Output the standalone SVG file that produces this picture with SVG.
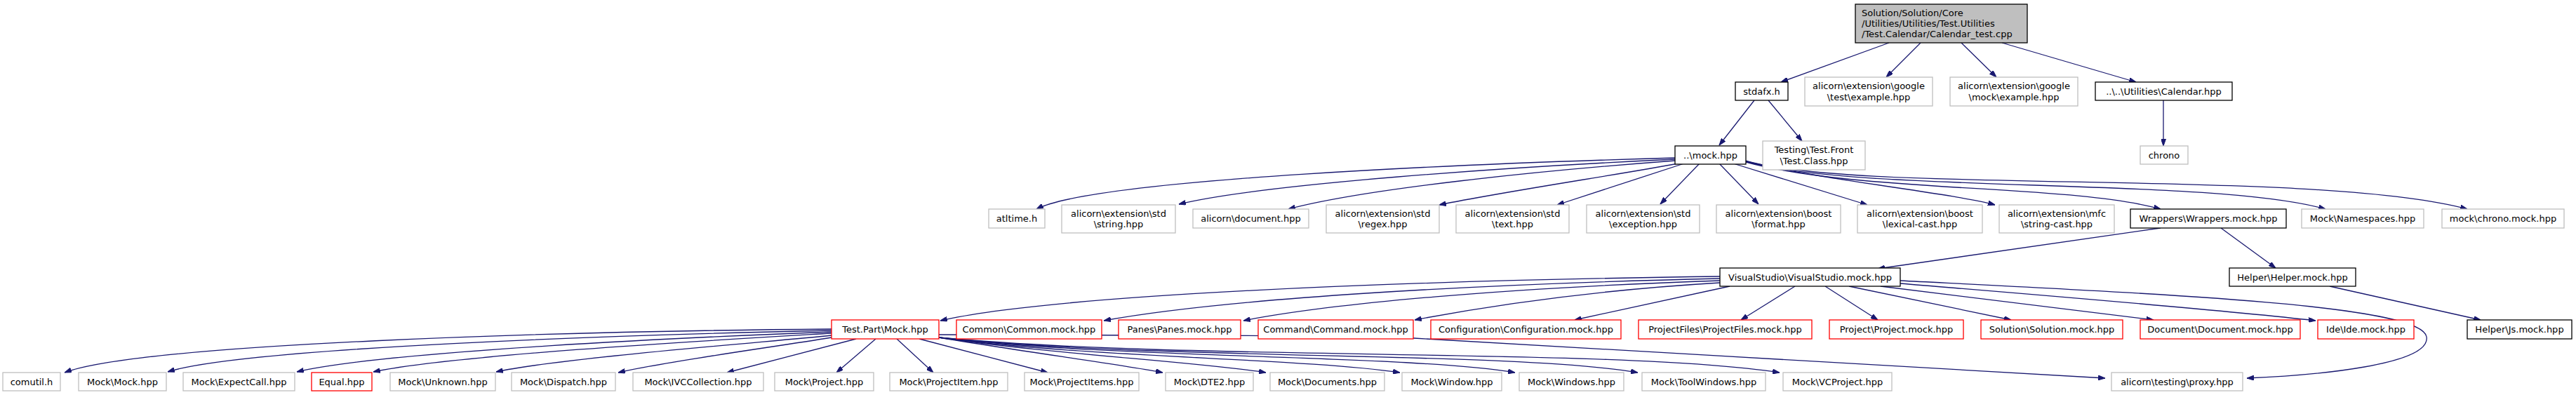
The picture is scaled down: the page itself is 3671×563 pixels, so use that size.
<svg xmlns="http://www.w3.org/2000/svg" width="3671" height="563" viewBox="0 0 3671 563">
<style>
text{font-family:"DejaVu Sans","Liberation Sans",sans-serif;font-size:13px;fill:#000;text-anchor:middle}
.b{fill:#fff;stroke:#000;stroke-width:1.3}
.g{fill:#fff;stroke:#bfbfbf;stroke-width:1.3}
.r{fill:#fff;stroke:#ff0000;stroke-width:1.3}
.top{fill:#bfbfbf;stroke:#000;stroke-width:1.3}
#edges path{fill:none;stroke:#191970;stroke-width:1.3;marker-end:url(#ah)}
</style>
<defs>
<marker id="ah" viewBox="0 0 10 7" refX="10" refY="3.5" markerWidth="10" markerHeight="7" markerUnits="userSpaceOnUse" orient="auto">
<path d="M0,0 L10,3.5 L0,7 z" fill="#191970" stroke="#191970"/>
</marker>
</defs>
<rect width="3671" height="563" fill="#fff"/>
<g id="edges">
<path d="M2692,61 L2538,117"/>
<path d="M2737,61 L2688,110"/>
<path d="M2795,61 L2845,110"/>
<path d="M2853,61 L3044,117"/>
<path d="M3083,143 L3083,208"/>
<path d="M2500,143 L2450,207"/>
<path d="M2520,143 L2568,201"/>
<path d="M2387,225 C2100,233 1560,255 1477,298"/>
<path d="M2387,227 C2150,238 1800,262 1680,291"/>
<path d="M2387,229 C2200,243 1950,268 1836,298"/>
<path d="M2392,233 C2300,250 2150,272 2051,292"/>
<path d="M2400,233 L2219,292"/>
<path d="M2422,233 L2366,291"/>
<path d="M2450,233 L2506,291"/>
<path d="M2470,233 L2661,292"/>
<path d="M2488,230 C2600,257 2780,275 2843,292"/>
<path d="M2488,231 C2650,275 2950,262 3079,298"/>
<path d="M2488,230 C2650,276 3150,252 3314,298"/>
<path d="M2488,229 C2650,277 3300,240 3516,298"/>
<path d="M3079,325 L2676,383"/>
<path d="M3165,325 L3243,382"/>
<path d="M3320,408 L3535,456"/>
<path d="M2451,394 C2000,400 1500,420 1340,457"/>
<path d="M2451,397 C2100,405 1750,425 1573,457"/>
<path d="M2451,400 C2150,410 1900,432 1772,457"/>
<path d="M2451,403 C2250,415 2100,440 2016,456"/>
<path d="M2465,408 L2244,456"/>
<path d="M2558,408 L2481,456"/>
<path d="M2601,408 L2676,456"/>
<path d="M2635,408 L2866,456"/>
<path d="M2680,408 L3069,456"/>
<path d="M2708,404 C2900,420 3150,440 3300,457"/>
<path d="M2708,400 C3100,420 3450,435 3458,480 C3465,520 3300,535 3202,539"/>
<path d="M1185,469 C800,472 200,490 92,531"/>
<path d="M1185,471 C900,477 350,495 239,530"/>
<path d="M1185,473 C1000,480 550,500 423,530"/>
<path d="M1185,475 C1050,483 650,505 532,530"/>
<path d="M1185,478 C1100,487 800,510 707,530"/>
<path d="M1185,481 C1100,495 950,515 881,531"/>
<path d="M1220,483 L1036,531"/>
<path d="M1248,483 L1192,531"/>
<path d="M1278,483 L1330,531"/>
<path d="M1310,483 L1493,531"/>
<path d="M1338,481 C1450,500 1600,520 1657,531"/>
<path d="M1338,481 C1500,505 1700,515 1804,531"/>
<path d="M1338,481 C1550,510 1850,510 1995,531"/>
<path d="M1338,481 C1600,512 2000,505 2159,531"/>
<path d="M1338,481 C1650,514 2150,500 2334,531"/>
<path d="M1338,481 C1700,515 2300,495 2536,531"/>
<path d="M1338,477 C1700,478 1950,478 2015,482 L3000,539"/>
</g>
<g id="n_top"><rect class="top" x="2644" y="6" width="245" height="55"/><text x="2653" y="22.6" style="text-anchor:start">Solution/Solution/Core</text><text x="2653" y="38" style="text-anchor:start">/Utilities/Utilities/Test.Utilities</text><text x="2653" y="53.4" style="text-anchor:start">/Test.Calendar/Calendar_test.cpp</text></g>
<g id="n_stdafx"><rect class="b" x="2473" y="117" width="75" height="26"/><text x="2510.5" y="134.5">stdafx.h</text></g>
<g id="n_gtest"><rect class="g" x="2572" y="110" width="182" height="41"/><text x="2663" y="127.3">alicorn\extension\google</text><text x="2663" y="142.7">\test\example.hpp</text></g>
<g id="n_gmock"><rect class="g" x="2779" y="110" width="182" height="41"/><text x="2870" y="127.3">alicorn\extension\google</text><text x="2870" y="142.7">\mock\example.hpp</text></g>
<g id="n_calendar"><rect class="b" x="2986" y="117" width="195" height="26"/><text x="3083.5" y="134.5">..\..\Utilities\Calendar.hpp</text></g>
<g id="n_mock"><rect class="b" x="2387" y="208" width="101" height="26"/><text x="2437.5" y="225.5">..\mock.hpp</text></g>
<g id="n_testclass"><rect class="g" x="2512" y="201" width="146" height="41"/><text x="2585" y="218.3">Testing\Test.Front</text><text x="2585" y="233.7">\Test.Class.hpp</text></g>
<g id="n_chrono"><rect class="g" x="3050" y="208" width="68" height="26"/><text x="3084" y="225.5">chrono</text></g>
<g id="n_atltime"><rect class="g" x="1409" y="298" width="80" height="27"/><text x="1449" y="316">atltime.h</text></g>
<g id="n_string"><rect class="g" x="1513" y="292" width="162" height="40"/><text x="1594" y="308.8">alicorn\extension\std</text><text x="1594" y="324.2">\string.hpp</text></g>
<g id="n_document"><rect class="g" x="1700" y="298" width="165" height="27"/><text x="1782.5" y="316">alicorn\document.hpp</text></g>
<g id="n_regex"><rect class="g" x="1890" y="292" width="161" height="40"/><text x="1970.5" y="308.8">alicorn\extension\std</text><text x="1970.5" y="324.2">\regex.hpp</text></g>
<g id="n_text"><rect class="g" x="2075" y="292" width="161" height="40"/><text x="2155.5" y="308.8">alicorn\extension\std</text><text x="2155.5" y="324.2">\text.hpp</text></g>
<g id="n_exception"><rect class="g" x="2261" y="292" width="161" height="40"/><text x="2341.5" y="308.8">alicorn\extension\std</text><text x="2341.5" y="324.2">\exception.hpp</text></g>
<g id="n_format"><rect class="g" x="2446" y="292" width="177" height="40"/><text x="2534.5" y="308.8">alicorn\extension\boost</text><text x="2534.5" y="324.2">\format.hpp</text></g>
<g id="n_lexical"><rect class="g" x="2647" y="292" width="178" height="40"/><text x="2736" y="308.8">alicorn\extension\boost</text><text x="2736" y="324.2">\lexical-cast.hpp</text></g>
<g id="n_stringcast"><rect class="g" x="2849" y="292" width="164" height="40"/><text x="2931" y="308.8">alicorn\extension\mfc</text><text x="2931" y="324.2">\string-cast.hpp</text></g>
<g id="n_wrappers"><rect class="b" x="3036" y="298" width="222" height="27"/><text x="3147" y="316">Wrappers\Wrappers.mock.hpp</text></g>
<g id="n_namespaces"><rect class="g" x="3280" y="298" width="174" height="27"/><text x="3367" y="316">Mock\Namespaces.hpp</text></g>
<g id="n_chronomock"><rect class="g" x="3480" y="298" width="174" height="27"/><text x="3567" y="316">mock\chrono.mock.hpp</text></g>
<g id="n_vs"><rect class="b" x="2451" y="382" width="257" height="26"/><text x="2579.5" y="399.5">VisualStudio\VisualStudio.mock.hpp</text></g>
<g id="n_helper"><rect class="b" x="3177" y="382" width="180" height="26"/><text x="3267" y="399.5">Helper\Helper.mock.hpp</text></g>
<g id="n_testpart"><rect class="r" x="1185" y="456" width="153" height="27"/><text x="1261.5" y="474">Test.Part\Mock.hpp</text></g>
<g id="n_common"><rect class="r" x="1363" y="456" width="207" height="27"/><text x="1466.5" y="474">Common\Common.mock.hpp</text></g>
<g id="n_panes"><rect class="r" x="1594" y="456" width="174" height="27"/><text x="1681" y="474">Panes\Panes.mock.hpp</text></g>
<g id="n_command"><rect class="r" x="1793" y="456" width="221" height="27"/><text x="1903.5" y="474">Command\Command.mock.hpp</text></g>
<g id="n_config"><rect class="r" x="2039" y="456" width="271" height="27"/><text x="2174.5" y="474">Configuration\Configuration.mock.hpp</text></g>
<g id="n_projectfiles"><rect class="r" x="2335" y="456" width="247" height="27"/><text x="2458.5" y="474">ProjectFiles\ProjectFiles.mock.hpp</text></g>
<g id="n_project"><rect class="r" x="2607" y="456" width="191" height="27"/><text x="2702.5" y="474">Project\Project.mock.hpp</text></g>
<g id="n_solution"><rect class="r" x="2823" y="456" width="202" height="27"/><text x="2924" y="474">Solution\Solution.mock.hpp</text></g>
<g id="n_documentmock"><rect class="r" x="3050" y="456" width="228" height="27"/><text x="3164" y="474">Document\Document.mock.hpp</text></g>
<g id="n_ide"><rect class="r" x="3303" y="456" width="137" height="27"/><text x="3371.5" y="474">Ide\Ide.mock.hpp</text></g>
<g id="n_js"><rect class="b" x="3516" y="456" width="149" height="27"/><text x="3590.5" y="474">Helper\Js.mock.hpp</text></g>
<g id="n_comutil"><rect class="g" x="4" y="531" width="82" height="26"/><text x="45" y="548.5">comutil.h</text></g>
<g id="n_mockmock"><rect class="g" x="112" y="531" width="125" height="26"/><text x="174.5" y="548.5">Mock\Mock.hpp</text></g>
<g id="n_expectcall"><rect class="g" x="261" y="531" width="159" height="26"/><text x="340.5" y="548.5">Mock\ExpectCall.hpp</text></g>
<g id="n_equal"><rect class="r" x="444" y="531" width="86" height="26"/><text x="487" y="548.5">Equal.hpp</text></g>
<g id="n_unknown"><rect class="g" x="556" y="531" width="150" height="26"/><text x="631" y="548.5">Mock\Unknown.hpp</text></g>
<g id="n_dispatch"><rect class="g" x="729" y="531" width="148" height="26"/><text x="803" y="548.5">Mock\Dispatch.hpp</text></g>
<g id="n_ivc"><rect class="g" x="902" y="531" width="186" height="26"/><text x="995" y="548.5">Mock\IVCCollection.hpp</text></g>
<g id="n_mproject"><rect class="g" x="1104" y="531" width="141" height="26"/><text x="1174.5" y="548.5">Mock\Project.hpp</text></g>
<g id="n_projectitem"><rect class="g" x="1268" y="531" width="168" height="26"/><text x="1352" y="548.5">Mock\ProjectItem.hpp</text></g>
<g id="n_projectitems"><rect class="g" x="1460" y="531" width="163" height="26"/><text x="1541.5" y="548.5">Mock\ProjectItems.hpp</text></g>
<g id="n_dte2"><rect class="g" x="1661" y="531" width="125" height="26"/><text x="1723.5" y="548.5">Mock\DTE2.hpp</text></g>
<g id="n_documents"><rect class="g" x="1810" y="531" width="163" height="26"/><text x="1891.5" y="548.5">Mock\Documents.hpp</text></g>
<g id="n_window"><rect class="g" x="1998" y="531" width="142" height="26"/><text x="2069" y="548.5">Mock\Window.hpp</text></g>
<g id="n_windows"><rect class="g" x="2165" y="531" width="149" height="26"/><text x="2239.5" y="548.5">Mock\Windows.hpp</text></g>
<g id="n_toolwindows"><rect class="g" x="2340" y="531" width="176" height="26"/><text x="2428" y="548.5">Mock\ToolWindows.hpp</text></g>
<g id="n_vcproject"><rect class="g" x="2541" y="531" width="155" height="26"/><text x="2618.5" y="548.5">Mock\VCProject.hpp</text></g>
<g id="n_proxy"><rect class="g" x="3009" y="531" width="187" height="26"/><text x="3102.5" y="548.5">alicorn\testing\proxy.hpp</text></g>
</svg>
